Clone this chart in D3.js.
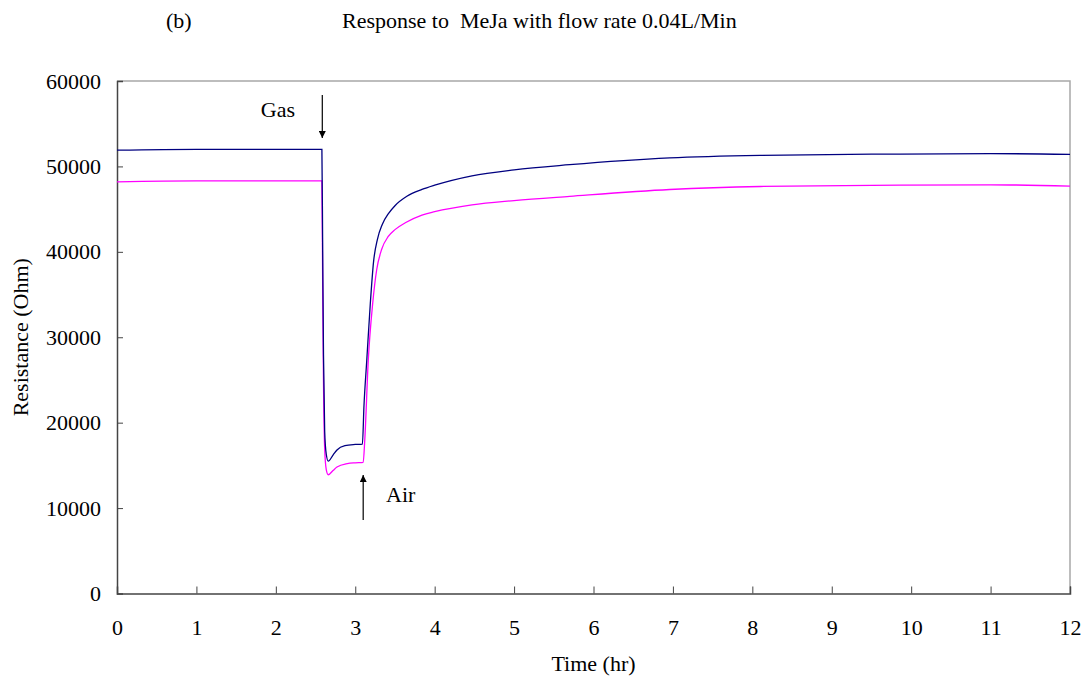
<!DOCTYPE html>
<html><head><meta charset="utf-8">
<script src="https://cdn.jsdelivr.net/npm/d3@7"></script>
<style>
html,body{margin:0;padding:0;background:#fff;}
text{font-family:"Liberation Serif","Times New Roman",serif;}
</style></head>
<body>
<svg id="chart" width="1086" height="679"></svg>
<script>
// ---- data ----
const xTicks = [0,1,2,3,4,5,6,7,8,9,10,11,12];
const yTicks = [0,10000,20000,30000,40000,50000,60000];
const blueT = [0,1,2,2.58,2.59,2.6,2.615,2.635,2.66,2.72,2.77,2.87,3.0,3.09,3.11,3.145,3.19,3.23,3.28,3.34,3.42,3.5,3.65,3.84,4.0,4.47,5.0,5.7,6.96,8.1,9.86,11,12];
const blueV = [51900,52000,52000,52000,40000,28000,19000,16300,15500,16200,16800,17300,17450,17500,22000,27300,34000,38800,41500,43200,44500,45400,46500,47300,47800,48900,49600,50200,51000,51300,51450,51500,51400];
const pinkT = [0,1,2,2.58,2.59,2.6,2.615,2.635,2.66,2.72,2.77,2.9,3.0,3.1,3.12,3.164,3.22,3.27,3.333,3.416,3.5,3.63,3.84,4.0,4.47,5.0,5.7,6.96,8.1,9.86,11,12];
const pinkV = [48200,48300,48300,48300,36000,25000,17000,14500,13900,14400,14800,15200,15300,15350,18000,27300,34000,37900,40300,41800,42600,43400,44300,44700,45500,46000,46500,47300,47650,47800,47850,47700];
const titleText = "Response to  MeJa with flow rate 0.04L/Min";
const panelText = "(b)";

// ---- layout ----
const svg = d3.select("#chart");
const L = 117, R = 1070, T = 81, B = 593.5;
const x = d3.scaleLinear().domain([0,12]).range([L,R]);
const y = d3.scaleLinear().domain([0,60000]).range([B,T]);
const fs = 22;

// frame top/right
svg.append("path").attr("d",`M${L},${T}H${R}V${B}`).attr("fill","none").attr("stroke","#a8a8a8").attr("stroke-width",1.5);

// axes
const gx = svg.append("g").attr("transform",`translate(0,${B})`)
  .call(d3.axisBottom(x).tickValues(xTicks).tickSize(-7).tickPadding(26).tickFormat(d3.format("d")));
const gy = svg.append("g").attr("transform",`translate(${L},0)`)
  .call(d3.axisLeft(y).tickValues(yTicks).tickSize(-6).tickPadding(16).tickFormat(d3.format("d")));
[gx,gy].forEach(g=>{
  g.select(".domain").attr("stroke","#444").attr("stroke-width",1.5);
  g.selectAll(".tick line").attr("stroke","#444").attr("stroke-width",1);
  g.selectAll(".tick text").attr("font-family","Liberation Serif").attr("font-size",fs).attr("fill","#000");
});
gx.select(".tick line").remove();
gy.selectAll(".tick").filter(d=>d===0||d===60000).select("line").remove();

// lines
const line = d3.line().x(d=>x(d[0])).y(d=>y(d[1])).curve(d3.curveMonotoneX);
svg.append("path").datum(pinkT.map((t,i)=>[t,pinkV[i]])).attr("d",line)
  .attr("fill","none").attr("stroke","#ff00ff").attr("stroke-width",1.3);
svg.append("path").datum(blueT.map((t,i)=>[t,blueV[i]])).attr("d",line)
  .attr("fill","none").attr("stroke","#000080").attr("stroke-width",1.3);

// annotations
const defs = svg.append("defs");
defs.append("marker").attr("id","ah").attr("viewBox","0 0 10 10").attr("refX",10).attr("refY",5)
  .attr("markerWidth",7).attr("markerHeight",7).attr("markerUnits","userSpaceOnUse").attr("orient","auto")
  .append("path").attr("d","M0,0L10,5L0,10z").attr("fill","#000");
svg.append("line").attr("x1",x(2.585)).attr("x2",x(2.585)).attr("y1",95).attr("y2",138)
  .attr("stroke","#000").attr("stroke-width",1.2).attr("marker-end","url(#ah)");
svg.append("line").attr("x1",x(3.1)).attr("x2",x(3.1)).attr("y1",520).attr("y2",475)
  .attr("stroke","#000").attr("stroke-width",1.2).attr("marker-end","url(#ah)");
svg.append("text").attr("x",295).attr("y",117).attr("text-anchor","end").attr("font-size",fs).text("Gas");
svg.append("text").attr("x",386).attr("y",502).attr("font-size",fs).text("Air");

// titles
svg.append("text").attr("x",166).attr("y",28).attr("font-size",fs).text(panelText);
svg.append("text").attr("x",342).attr("y",28).attr("font-size",fs).attr("xml:space","preserve").style("white-space","pre").text(titleText);
svg.append("text").attr("x",(L+R)/2).attr("y",671).attr("text-anchor","middle").attr("font-size",fs).text("Time (hr)");
svg.append("text").attr("transform",`translate(28,${(T+B)/2}) rotate(-90)`).attr("text-anchor","middle").attr("font-size",fs).text("Resistance (Ohm)");
</script>
</body></html>
